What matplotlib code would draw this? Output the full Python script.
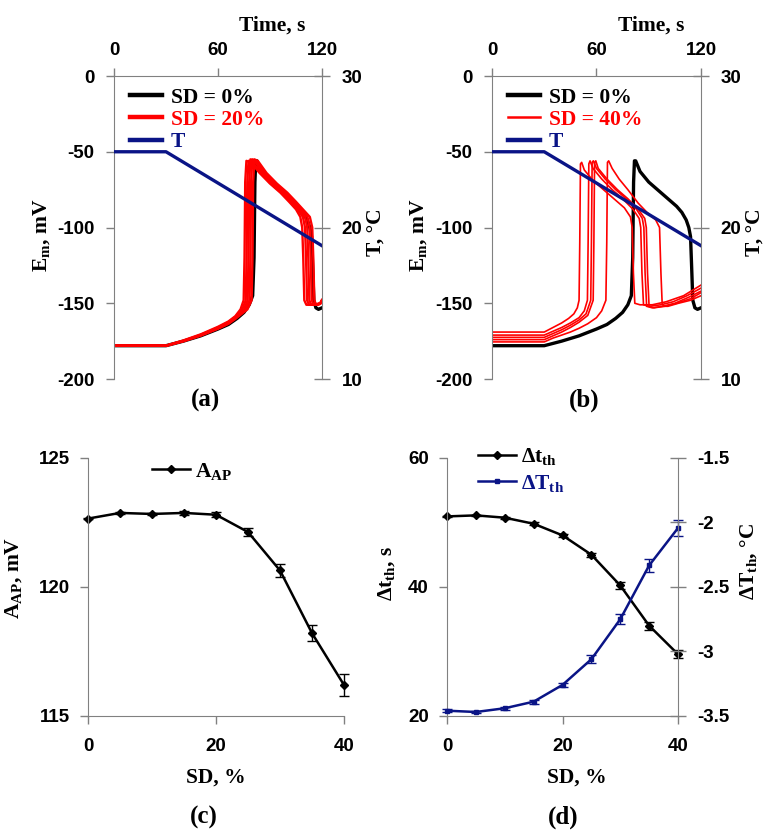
import matplotlib
matplotlib.use("Agg")
import matplotlib.pyplot as plt
from matplotlib.ticker import FormatStrFormatter

plt.rcParams["font.family"] = "Liberation Sans"
plt.rcParams["font.weight"] = "bold"
plt.rcParams["axes.unicode_minus"] = False
plt.rcParams["mathtext.fontset"] = "custom"
plt.rcParams["mathtext.rm"] = "Liberation Serif:bold"
plt.rcParams["mathtext.it"] = "Liberation Serif:bold"
plt.rcParams["mathtext.bf"] = "Liberation Serif:bold"

NAVY = "#0a1486"
RED = "#ff0000"
GRAY = "#808080"
SERIF = "Liberation Serif"

# ---- temperature protocol (shared by a and b) ----
t_temp = [0, 30, 120]
temp = [25.0, 25.0, 18.8]

# ---- SD = 0 % trace ----
t_sd0 = [0, 30, 40, 50, 60, 66, 71, 75, 78, 80, 80.8, 81.3, 81.8, 82.5, 85, 90, 96,
         102, 106, 109, 111.5, 113, 114, 114.6, 115.3, 116.5, 118, 120]
em_sd0 = [-178, -178, -175, -171.5, -167, -164, -160, -156, -151, -145, -120, -70, -56,
          -56, -63, -70, -76, -82, -86, -90, -95, -100, -106, -125, -148, -153, -154, -153]

# ---- SD = 20 % traces (panel a) ----
t_a1 = [0, 30, 40, 50, 60, 66, 70, 73, 74.8, 75.3, 75.7, 76.4, 79, 84, 90, 96, 101,
        105, 107.5, 108.6, 109.2, 109.8, 111, 116, 119, 120]
em_a1 = [-178, -178, -174.5, -170.5, -165.5, -162, -158.5, -154, -148, -120, -70, -56,
         -57, -64, -71, -77, -83, -88, -93, -100, -120, -148, -151, -151, -150, -148]
t_a2 = [0, 30, 40, 50, 60, 66, 70, 74, 76, 76.5, 76.9, 77.6, 80, 85, 91, 97, 102,
        106, 109, 110.2, 110.8, 111.4, 112.5, 116, 119, 120]
em_a2 = [-178, -178, -174.8, -170.8, -166, -162.5, -159, -154, -148, -120, -70, -56,
         -57, -64, -71, -77, -83, -88, -93, -100, -120, -148, -151, -151, -150, -148]
t_a3 = [0, 30, 40, 50, 60, 66, 70, 75, 77.1, 77.6, 78.0, 78.7, 81, 86, 92, 98, 103,
        107, 110.3, 111.5, 112.1, 112.7, 113.8, 116, 119, 120]
em_a3 = [-178, -178, -175, -171, -166.3, -163, -159.5, -154, -148, -120, -70, -55,
         -56, -64, -71, -77, -83, -88, -93, -100, -120, -148, -151, -151, -150, -148]
t_a4 = [0, 30, 40, 50, 60, 66, 70, 76, 78.2, 78.7, 79.1, 79.8, 82, 87, 93, 99, 104,
        108, 111.6, 112.9, 113.5, 114.1, 115.2, 117, 119, 120]
em_a4 = [-178, -178, -175, -171.2, -166.6, -163.3, -160, -154, -148, -120, -70, -55,
         -56, -64, -71, -77, -83, -88, -93, -100, -120, -148, -151, -151, -150, -148]
t_a5 = [0, 30, 40, 50, 60, 66, 70, 77, 79.4, 79.9, 80.3, 81.0, 83, 88, 94, 100, 105,
        109, 113.0, 114.4, 115.0, 115.6, 116.6, 118, 119.5, 120]
em_a5 = [-178, -178, -175, -171.4, -166.8, -163.6, -160.3, -154, -148, -120, -70, -55,
         -56, -64, -71, -77, -83, -88, -93, -100, -120, -148, -151, -151, -150, -148]

# ---- SD = 40 % traces (panel b) ----
t_b1 = [0, 30, 35, 40, 44, 47, 49, 50, 50.4, 50.8, 51.5, 53, 58, 64, 70, 76, 79.5,
        80.5, 81.2, 82, 85, 92, 100, 110, 120]
em_b1 = [-169, -169, -166, -163, -160, -157, -153, -148, -110, -58, -57, -62, -69, -75,
         -81, -87, -93, -100, -130, -150, -151, -151, -149, -145, -138]
t_b2 = [0, 30, 35, 40, 45, 50, 53, 54.8, 55.2, 55.6, 56.3, 58, 63, 69, 75, 81, 84.5,
        85.4, 86.1, 87, 90, 97, 104, 112, 120]
em_b2 = [-171, -171, -168.5, -166, -163, -159.5, -155, -148, -110, -58, -56, -61, -68,
         -75, -81, -88, -94, -100, -130, -151, -152, -151, -149, -145, -140]
t_b3 = [0, 30, 35, 40, 45, 50, 54, 56.7, 57.1, 57.5, 58.2, 60, 65, 71, 77, 83, 86.3,
        87.2, 87.9, 88.8, 92, 98, 105, 113, 120]
em_b3 = [-172.5, -172.5, -170, -167.5, -164.5, -161, -157, -148, -110, -57, -56, -61,
         -68, -75, -81, -88, -94, -100, -130, -152, -153, -152, -150, -146, -142]
t_b4 = [0, 30, 35, 40, 45, 50, 55, 58.1, 58.5, 58.9, 59.6, 61, 66, 72, 78, 84, 87.7,
        88.6, 89.3, 90.2, 93, 99, 106, 114, 120]
em_b4 = [-174, -174, -171.5, -169, -166, -162.5, -158, -148, -110, -57, -56, -61, -68,
         -75, -81, -88, -94, -100, -130, -152, -153, -152, -150, -147, -143]
t_b5 = [0, 30, 35, 40, 45, 50, 55, 60, 63, 65.4, 65.9, 66.3, 67, 69, 73, 78, 84, 89,
        94, 96.2, 97.0, 97.7, 98.5, 101, 107, 114, 120]
em_b5 = [-175.5, -175.5, -173, -171, -169, -166.5, -163.5, -159.5, -155, -148, -110,
         -57, -56, -61, -68, -75, -84, -90, -95, -100, -130, -150, -152, -152, -150,
         -148, -145]

# ---- panel c / d ----
sd = [0, 5, 10, 15, 20, 25, 30, 35, 40]
a_ap = [122.65, 122.87, 122.83, 122.87, 122.80, 122.13, 120.64, 118.21, 116.20]
a_ap_err = [0.03, 0.05, 0.05, 0.07, 0.1, 0.17, 0.25, 0.3, 0.44]
dt_th = [50.94, 51.1, 50.74, 49.8, 48.0, 45.0, 40.23, 34.0, 29.57]
dt_th_err = [0.1, 0.1, 0.15, 0.2, 0.25, 0.3, 0.6, 0.6, 0.6]
dT_th = [-3.459, -3.469, -3.44, -3.389, -3.259, -3.06, -2.75, -2.333, -2.043]
dT_th_err = [0.01, 0.01, 0.012, 0.015, 0.015, 0.03, 0.04, 0.05, 0.06]

fig = plt.figure(figsize=(7.71, 8.38), dpi=100)

lab_kw = dict(family=SERIF, weight="bold", size=15.5)
leg_prop = {"family": SERIF, "weight": "bold", "size": 15.5}


def style_ticks(ax):
    ax.tick_params(colors=GRAY, labelcolor="black", labelsize=13.5, width=1, length=6)
    for s in ax.spines.values():
        s.set_color(GRAY)


def no_clip(container):
    for art in container.get_children():
        art.set_clip_on(False)


def top_panel(rect, red_traces, red_lw, red_leg_lw, red_label, letter):
    ax = fig.add_axes(rect)
    ax.set_xlim(0, 120)
    ax.set_ylim(-200, 0)
    ax.xaxis.tick_top()
    ax.xaxis.set_label_position("top")
    ax.set_xticks([0, 60, 120])
    ax.set_yticks([-200, -150, -100, -50, 0])
    ax.spines["bottom"].set_visible(False)
    ax.spines["right"].set_visible(False)
    style_ticks(ax)
    ax.tick_params(axis="x", direction="out", pad=6)
    ax.tick_params(axis="y", direction="out", pad=8)

    h0, = ax.plot(t_sd0, em_sd0, color="black", lw=2.4)
    hr = None
    for tt, vv in red_traces:
        hr, = ax.plot(tt, vv, color=RED, lw=red_lw)

    ax2 = ax.twinx()
    ax2.set_ylim(10, 30)
    ax2.set_yticks([10, 20, 30])
    ax2.spines["bottom"].set_visible(False)
    ax2.spines["top"].set_visible(False)
    ax2.spines["left"].set_visible(False)
    style_ticks(ax2)
    ax2.tick_params(axis="y", direction="inout", length=12, pad=8)
    hT, = ax2.plot(t_temp, temp, color=NAVY, lw=2.4)

    ax.set_xlabel("Time, s", **lab_kw)
    ax.xaxis.set_label_coords(0.76, 1.15)
    ax.set_ylabel("E$_\\mathrm{m}$, mV", **lab_kw)
    ax.yaxis.set_label_coords(-0.30, 0.475)
    ax2.set_ylabel("T, \u00b0C", **lab_kw)
    ax2.yaxis.set_label_coords(1.21, 0.485)

    leg = ax2.legend([h0, hr, hT], ["SD = 0%", red_label, "T"], loc="upper left",
                     bbox_to_anchor=(0.075, 0.962), frameon=False, prop=leg_prop,
                     labelcolor="linecolor", handlelength=1.5, handletextpad=0.42,
                     labelspacing=0.1, borderpad=0, borderaxespad=0)
    for ln, w in zip(leg.get_lines(), [3.2, red_leg_lw, 3.2]):
        ln.set_linewidth(w)
    fig.text(rect[0] + rect[2] * 0.44, 0.5227, letter, ha="center", va="center",
             family=SERIF, weight="bold", size=18)
    return ax


top_panel([0.1479, 0.5477, 0.2697, 0.3616],
          [(t_a1, em_a1), (t_a2, em_a2), (t_a3, em_a3), (t_a4, em_a4), (t_a5, em_a5)],
          1.7, 3.2, "SD = 20%", "(a)")
top_panel([0.6381, 0.5477, 0.2711, 0.3616],
          [(t_b1, em_b1), (t_b2, em_b2), (t_b3, em_b3), (t_b4, em_b4), (t_b5, em_b5)],
          1.2, 1.8, "SD = 40%", "(b)")

# ---- panel c ----
axc = fig.add_axes([0.1141, 0.1456, 0.3321, 0.3079])
ec = axc.errorbar(sd, a_ap, yerr=a_ap_err, color="black", lw=1.8, marker="D", ms=4.5,
                  capsize=3.5, elinewidth=1, capthick=1)
no_clip(ec)
axc.set_xlim(0, 40)
axc.set_ylim(115, 125)
axc.set_xticks([0, 20, 40])
axc.set_yticks([115, 120, 125])
axc.spines["top"].set_visible(False)
axc.spines["right"].set_visible(False)
style_ticks(axc)
axc.tick_params(axis="x", pad=10)
axc.tick_params(axis="y", pad=7)
axc.set_xlabel("SD, %", **lab_kw)
axc.xaxis.set_label_coords(0.5, -0.2)
axc.set_ylabel("A$_\\mathrm{AP}$, mV", **lab_kw)
axc.yaxis.set_label_coords(-0.25, 0.535)
axc.legend([ec[0]], ["A$_\\mathrm{AP}$"], loc="upper left", bbox_to_anchor=(0.25, 0.99),
           frameon=False, prop=leg_prop, handlelength=1.75, handletextpad=0.25,
           borderpad=0, borderaxespad=0)
fig.text(0.2646, 0.025, "(c)", ha="center", va="center", family=SERIF, weight="bold",
         size=18)

# ---- panel d ----
axd = fig.add_axes([0.5798, 0.1456, 0.2996, 0.3079])
h1 = axd.errorbar(sd, dt_th, yerr=dt_th_err, color="black", lw=1.8, marker="D", ms=4.5,
                  capsize=3.5, elinewidth=1, capthick=1)
no_clip(h1)
axd.set_xlim(0, 40)
axd.set_ylim(20, 60)
axd.set_xticks([0, 20, 40])
axd.set_yticks([20, 40, 60])
axd.spines["top"].set_visible(False)
axd.spines["right"].set_visible(False)
style_ticks(axd)
axd.tick_params(axis="x", pad=10)
axd.tick_params(axis="y", pad=7)

axd2 = axd.twinx()
h2 = axd2.errorbar(sd, dT_th, yerr=dT_th_err, color=NAVY, lw=1.8, marker="s", ms=3.5,
                   capsize=3.5, elinewidth=1, capthick=1)
no_clip(h2)
axd2.set_ylim(-3.5, -1.5)
axd2.set_yticks([-3.5, -3, -2.5, -2, -1.5])
axd2.yaxis.set_major_formatter(FormatStrFormatter("%g"))
for s in ["top", "left", "bottom"]:
    axd2.spines[s].set_visible(False)
style_ticks(axd2)
axd2.tick_params(axis="y", direction="inout", length=12, pad=8)

axd.set_xlabel("SD, %", **lab_kw)
axd.xaxis.set_label_coords(0.56, -0.2)
axd.set_ylabel("\u0394t$_\\mathrm{th}$, s", **lab_kw)
axd.yaxis.set_label_coords(-0.215, 0.554)
axd2.set_ylabel("\u0394T$_\\mathrm{th}$, \u00b0C", **lab_kw)
axd2.yaxis.set_label_coords(1.26, 0.597)
axd2.legend([h1[0], h2[0]], ["\u0394t$_\\mathrm{th}$", "\u0394T$_\\mathrm{th}$"],
            loc="upper left", bbox_to_anchor=(0.134, 1.045), frameon=False, prop=leg_prop,
            labelcolor=["black", NAVY], handlelength=1.75, handletextpad=0.25,
            labelspacing=0.25, borderpad=0, borderaxespad=0)
fig.text(0.730, 0.025, "(d)", ha="center", va="center", family=SERIF, weight="bold",
         size=18)

fig.savefig("out.png", dpi=100)
